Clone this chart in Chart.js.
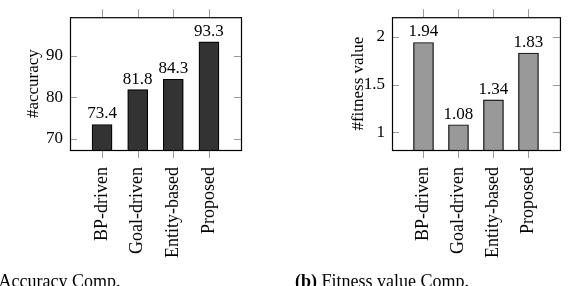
<!DOCTYPE html>
<html>
<head>
<meta charset="utf-8">
<script src="https://cdn.jsdelivr.net/npm/chart.js@4/dist/chart.umd.min.js"></script>
<style>
  html, body { margin: 0; padding: 0; background: #fff; width: 568px; height: 286px; overflow: hidden; position: relative; }
  .wrap { position: absolute; top: 0; height: 286px; }
  .cap { position: absolute; top: 272px; font: 18px "Liberation Serif", serif; line-height: 18px; color: #000; white-space: nowrap; }
</style>
</head>
<body>
<div class="wrap" style="left:0;width:284px;"><canvas id="c1"></canvas></div>
<div class="wrap" style="left:285px;width:283px;"><canvas id="c2"></canvas></div>
<div class="cap" style="left:-25px;">(a) Accuracy Comp.</div>
<div class="cap" style="left:295px;"><b>(b)</b> Fitness value Comp.</div>
<script>
const categories = ["BP-driven", "Goal-driven", "Entity-based", "Proposed"];
const accuracyValues = [73.4, 81.8, 84.3, 93.3];
const fitnessValues = [1.94, 1.08, 1.34, 1.83];
const accuracyTicks = [70, 80, 90];
const fitnessTicks = [1, 1.5, 2];

const serif = '"Liberation Serif", "Times New Roman", serif';

const framePlugin = {
  id: 'frame',
  afterDatasetsDraw(chart) {
    const { ctx, chartArea: a, scales: { x, y } } = chart;
    ctx.save();
    ctx.strokeStyle = '#9a9a9a';
    ctx.lineWidth = 1;
    ctx.beginPath();
    x.ticks.forEach(t => {
      const px = Math.round(x.getPixelForValue(t.value)) + 0.5;
      ctx.moveTo(px, a.top - 8); ctx.lineTo(px, a.top);
      ctx.moveTo(px, a.bottom); ctx.lineTo(px, a.bottom + 8);
    });
    y.ticks.forEach(t => {
      const py = Math.round(y.getPixelForValue(t.value)) + 0.5;
      ctx.moveTo(a.left, py); ctx.lineTo(a.left + 7, py);
      ctx.moveTo(a.right - 7, py); ctx.lineTo(a.right, py);
    });
    ctx.stroke();
    ctx.strokeStyle = '#000';
    ctx.lineWidth = 1.2;
    ctx.strokeRect(a.left + 0.5, a.top + 0.5, a.right - a.left, a.bottom - a.top);
    // value labels above bars
    ctx.fillStyle = '#000';
    ctx.font = '17px ' + serif;
    ctx.textAlign = 'center';
    ctx.textBaseline = 'alphabetic';
    const meta = chart.getDatasetMeta(0);
    const data = chart.data.datasets[0].data;
    meta.data.forEach((bar, i) => {
      ctx.fillText(String(data[i].y), bar.x, bar.y - 6);
    });
    ctx.restore();
  }
};

function makeChart(id, values, yTicks, yMin, yMax, title, titlePad, fill, rightPad) {
  return new Chart(document.getElementById(id), {
    type: 'bar',
    data: {
      datasets: [{
        data: values.map((v, i) => ({ x: i, y: v })),
        backgroundColor: fill,
        borderColor: '#000',
        borderWidth: 1.2,
        barThickness: 20
      }]
    },
    options: {
      responsive: true,
      maintainAspectRatio: false,
      animation: false,
      layout: { padding: { top: 14, right: rightPad, bottom: 0, left: 0 } },
      plugins: { legend: { display: false }, tooltip: { enabled: false } },
      scales: {
        x: {
          type: 'linear',
          position: 'bottom',
          offset: false,
          min: -0.9,
          max: 3.9,
          afterBuildTicks: s => { s.ticks = categories.map((c, i) => ({ value: i })); },
          afterFit: s => { s.height = 136; },
          grid: { display: false, drawTicks: false, offset: false },
          border: { display: false },
          ticks: {
            autoSkip: false,
            minRotation: 90,
            maxRotation: 90,
            padding: 17,
            color: '#000',
            font: { family: serif, size: 18 },
            callback: v => categories[v]
          }
        },
        y: {
          type: 'linear',
          position: 'left',
          min: yMin,
          max: yMax,
          afterBuildTicks: s => { s.ticks = yTicks.map(v => ({ value: v })); },
          afterFit: s => { s.width = (id === 'c1') ? 70 : 107; },
          grid: { display: false, drawTicks: false },
          border: { display: false },
          ticks: {
            padding: 7,
            color: '#000',
            font: { family: serif, size: 17 },
            callback: v => String(v)
          },
          title: {
            display: true,
            text: title,
            color: '#000',
            font: { family: serif, size: 17 },
            padding: { top: titlePad, bottom: 0 }
          }
        }
      }
    },
    plugins: [framePlugin]
  });
}

makeChart('c1', accuracyValues, accuracyTicks, 67.25, 99.25, '#accuracy', 23, '#333333', 43);
makeChart('c2', fitnessValues, fitnessTicks, 0.816, 2.204, '#fitness value', 63, '#999999', 5);
</script>
</body>
</html>
